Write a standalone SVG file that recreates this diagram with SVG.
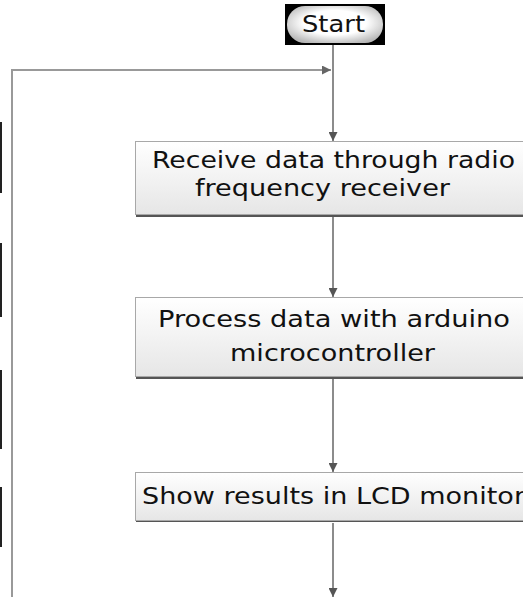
<svg xmlns="http://www.w3.org/2000/svg" width="523" height="597" viewBox="0 0 523 597">
<defs>
<linearGradient id="boxg" x1="0" y1="0" x2="0" y2="1">
<stop offset="0" stop-color="#ffffff"/>
<stop offset="1" stop-color="#e6e6e6"/>
</linearGradient>
<radialGradient id="pillg" cx="0.5" cy="0.45" r="0.6">
<stop offset="0.55" stop-color="#ffffff"/>
<stop offset="1" stop-color="#b8b8b8"/>
</radialGradient>
<marker id="ah" viewBox="0 0 10 10" refX="10" refY="5" markerWidth="9" markerHeight="9" markerUnits="userSpaceOnUse" orient="auto">
<path d="M0,0 L10,5 L0,10 z" fill="#555"/>
</marker>
<marker id="ahg" viewBox="0 0 10 10" refX="10" refY="5" markerWidth="9" markerHeight="9" markerUnits="userSpaceOnUse" orient="auto">
<path d="M0,0 L10,5 L0,10 z" fill="#666"/>
</marker>
</defs>
<style>
.box{fill:url(#boxg);stroke:#a8a8a8;stroke-width:1}
.shadow{fill:#555}
.t{font-family:"DejaVu Sans",Verdana,sans-serif;font-size:22.5px;fill:#111}
.conn{stroke:#666;stroke-width:1.5;fill:none}
.loop{stroke:#999;stroke-width:2;fill:none}
.bar{fill:#222}
</style>
<rect width="523" height="597" fill="#ffffff"/>
<g id="edge-marks">
<rect class="bar" x="0" y="122" width="2" height="71"/>
<rect class="bar" x="0" y="243" width="2" height="74"/>
<rect class="bar" x="0" y="370" width="2" height="79"/>
<rect class="bar" x="0" y="487" width="2" height="60"/>
</g>
<g id="connectors">
<path class="loop" d="M12,597 L12,70 L331,70" marker-end="url(#ahg)"/>
<path class="conn" d="M333,45 L333,141" marker-end="url(#ah)"/>
<path class="conn" d="M333,217 L333,297" marker-end="url(#ah)"/>
<path class="conn" d="M333,379 L333,472" marker-end="url(#ah)"/>
<path class="conn" d="M333,523 L333,597" marker-end="url(#ah)"/>
</g>
<g id="start">
<rect x="285" y="4" width="100" height="41" fill="#000"/>
<rect x="287" y="6" width="96" height="37" rx="18" ry="18" fill="url(#pillg)"/>
<text class="t" x="302" y="32" font-size="23" textLength="63" lengthAdjust="spacingAndGlyphs">Start</text>
</g>
<g id="receive">
<rect class="shadow" x="136" y="214" width="400" height="3"/>
<rect class="box" x="135.5" y="141.5" width="400" height="73"/>
<text class="t" x="152" y="168" textLength="363" lengthAdjust="spacingAndGlyphs">Receive data through radio</text>
<text class="t" x="195" y="196" textLength="255" lengthAdjust="spacingAndGlyphs">frequency receiver</text>
</g>
<g id="process">
<rect class="shadow" x="136" y="376" width="400" height="3"/>
<rect class="box" x="135.5" y="297.5" width="400" height="79"/>
<text class="t" x="158" y="327" textLength="352" lengthAdjust="spacingAndGlyphs">Process data with arduino</text>
<text class="t" x="230" y="361" textLength="205" lengthAdjust="spacingAndGlyphs">microcontroller</text>
</g>
<g id="show">
<rect class="shadow" x="136" y="520" width="400" height="2"/>
<rect class="box" x="135.5" y="472.5" width="400" height="48"/>
<text class="t" x="142" y="504" textLength="383" lengthAdjust="spacingAndGlyphs">Show results in LCD monitor</text>
</g>
</svg>
